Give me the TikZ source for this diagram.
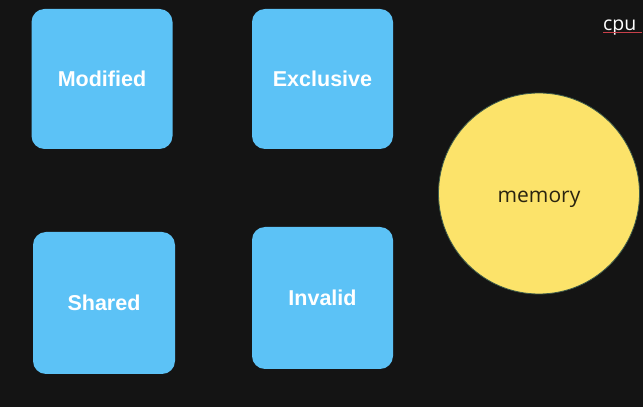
\documentclass[tikz,border=0pt]{standalone}
\usepackage{fontspec}
\setmainfont{Liberation Sans}
\newfontfamily\opensans{Open Sans}
\definecolor{bgdark}{HTML}{141414}
\definecolor{stateblue}{HTML}{5CC2F6}
\definecolor{memyellow}{HTML}{FCE36A}
\definecolor{memedge}{HTML}{3C5A4A}
\definecolor{memtext}{HTML}{2A2410}
\definecolor{underred}{HTML}{C8404A}
\tikzset{
  statebox/.style={fill=stateblue, rounded corners=13pt, minimum width=141pt, minimum height=140pt,
    inner sep=0pt, text=white, font=\bfseries\fontsize{21.5}{24}\selectfont},
  memcircle/.style={circle, fill=memyellow, draw=memedge, line width=0.8pt, minimum size=201pt,
    inner sep=0pt},
  memlabel/.style={anchor=base, inner sep=0pt, text=memtext, font=\opensans\fontsize{21}{24}\selectfont},
}
\begin{document}
\begin{tikzpicture}[x=1pt,y=1pt]
\path[use as bounding box, fill=bgdark] (0,0) rectangle (643,407);
\node[statebox] (mod) at (102,328) {Modified};
\node[statebox] (exc) at (322.5,328) {Exclusive};
\node[statebox, minimum width=142pt, minimum height=142pt] (sha) at (104,104) {Shared};
\node[statebox, minimum height=142pt] (inv) at (322.5,109) {Invalid};
\node[memcircle] (mem) at (539,213.5) {};
\node[memlabel] (memlbl) at (539,204) {memory};
\node[anchor=base west, inner sep=0pt, text=white, font=\opensans\fontsize{19.5}{22}\selectfont] (cpu) at (603,376) {cpu};
\coordinate (ul1) at (603,374);
\coordinate (ul2) at (642,374);
\draw[underred, line width=1pt] (ul1) -- (ul2);
\end{tikzpicture}
\end{document}
